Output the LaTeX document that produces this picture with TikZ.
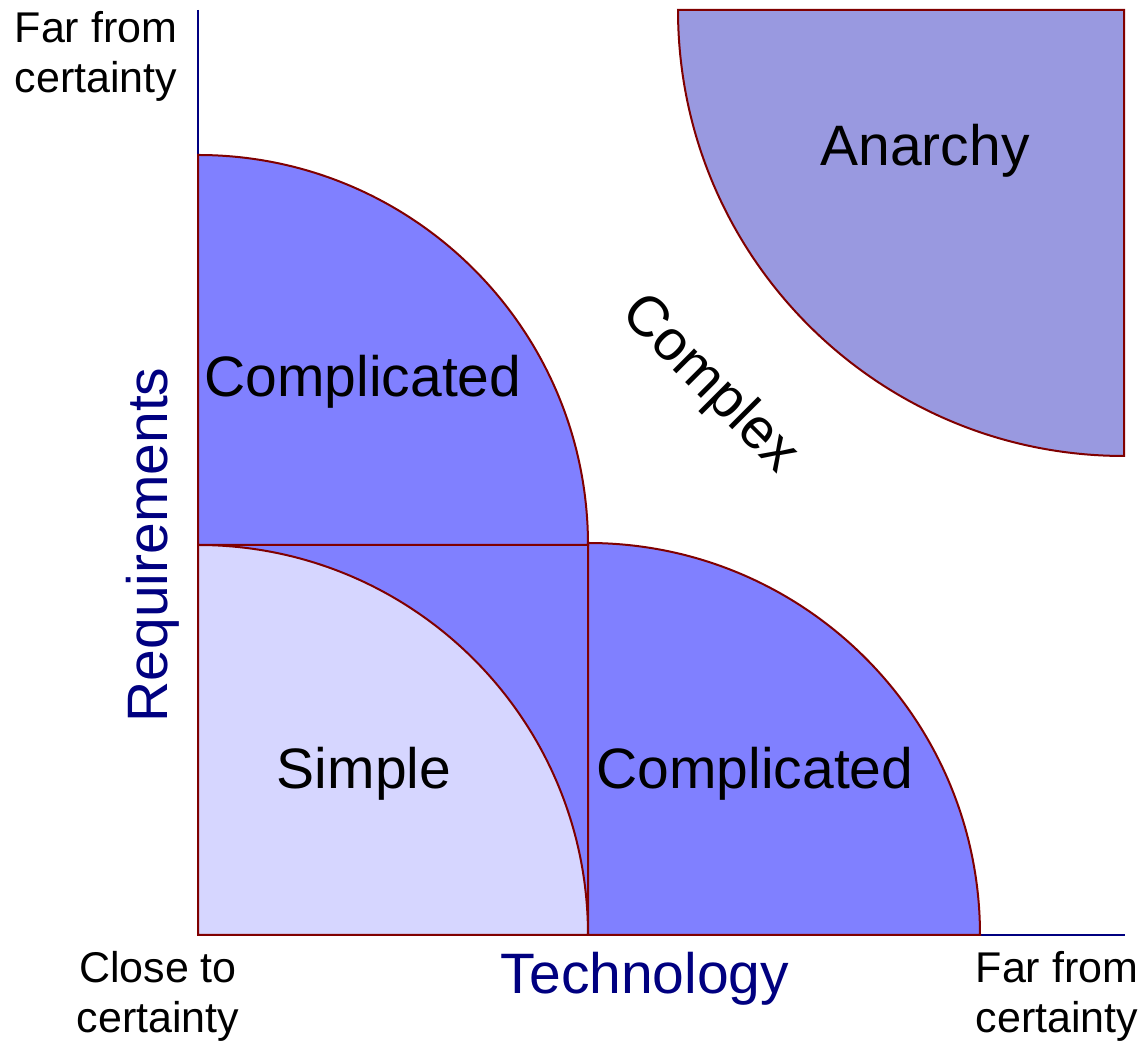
\documentclass[tikz,border=0pt]{standalone}
\usepackage{fontspec}
\setmainfont{Liberation Sans}
\usetikzlibrary{positioning}
\definecolor{axisblue}{HTML}{000080}
\definecolor{edgered}{HTML}{800000}
\definecolor{midblue}{HTML}{8080FF}
\definecolor{paleblue}{HTML}{D6D6FF}
\definecolor{greyblue}{HTML}{9999E0}
\begin{document}
\begin{tikzpicture}[x=0.5pt,y=0.5pt,
    zone/.style={draw=edgered,line width=1pt},
    axisline/.style={draw=axisblue,line width=1pt},
    big/.style={font=\fontsize{28.5}{34}\selectfont},
    small/.style={font=\fontsize{21.5}{25}\selectfont,align=center},
    axislabel/.style={big,text=axisblue}]
    \useasboundingbox (0,0) rectangle (1147,1043);
    % axes
    \draw[axisline] (198,1033) -- (198,108) -- (1125,108);
    % regions
    \path[zone,fill=midblue] (198,108) rectangle (588,498);
    \path[zone,fill=paleblue] (198,108) -- (588,108) arc[start angle=0,end angle=90,radius=390] -- cycle;
    \path[zone,fill=midblue] (588,108) -- (980,108) arc[start angle=0,end angle=90,radius=392] -- cycle;
    \path[zone,fill=midblue] (198,498) -- (588,498) arc[start angle=0,end angle=90,radius=390] -- cycle;
    \path[zone,fill=greyblue] (1124,1033) -- (678,1033) arc[start angle=180,end angle=270,radius=446] -- cycle;
    % region names
    \node[big] (simple) at (364,269) {Simple};
    \node[big] (complbottom) at (755,269) {Complicated};
    \node[big] (compltop) at (363,661) {Complicated};
    \node[big,rotate=-45,inner sep=0pt] (complex) at (709,658) {Complex};
    \node[big] (anarchy) at (925,892) {Anarchy};
    % axis names
    \node[axislabel] (tech) at (645,64) {Technology};
    \node[axislabel,rotate=90] (req) at (153,498) {Requirements};
    \node[small] (farreq) at (96,987) {Far from\\certainty};
    \node[small] (close) at (158,47) {Close to\\certainty};
    \node[small] (fartech) at (1057,47) {Far from\\certainty};
\end{tikzpicture}
\end{document}
